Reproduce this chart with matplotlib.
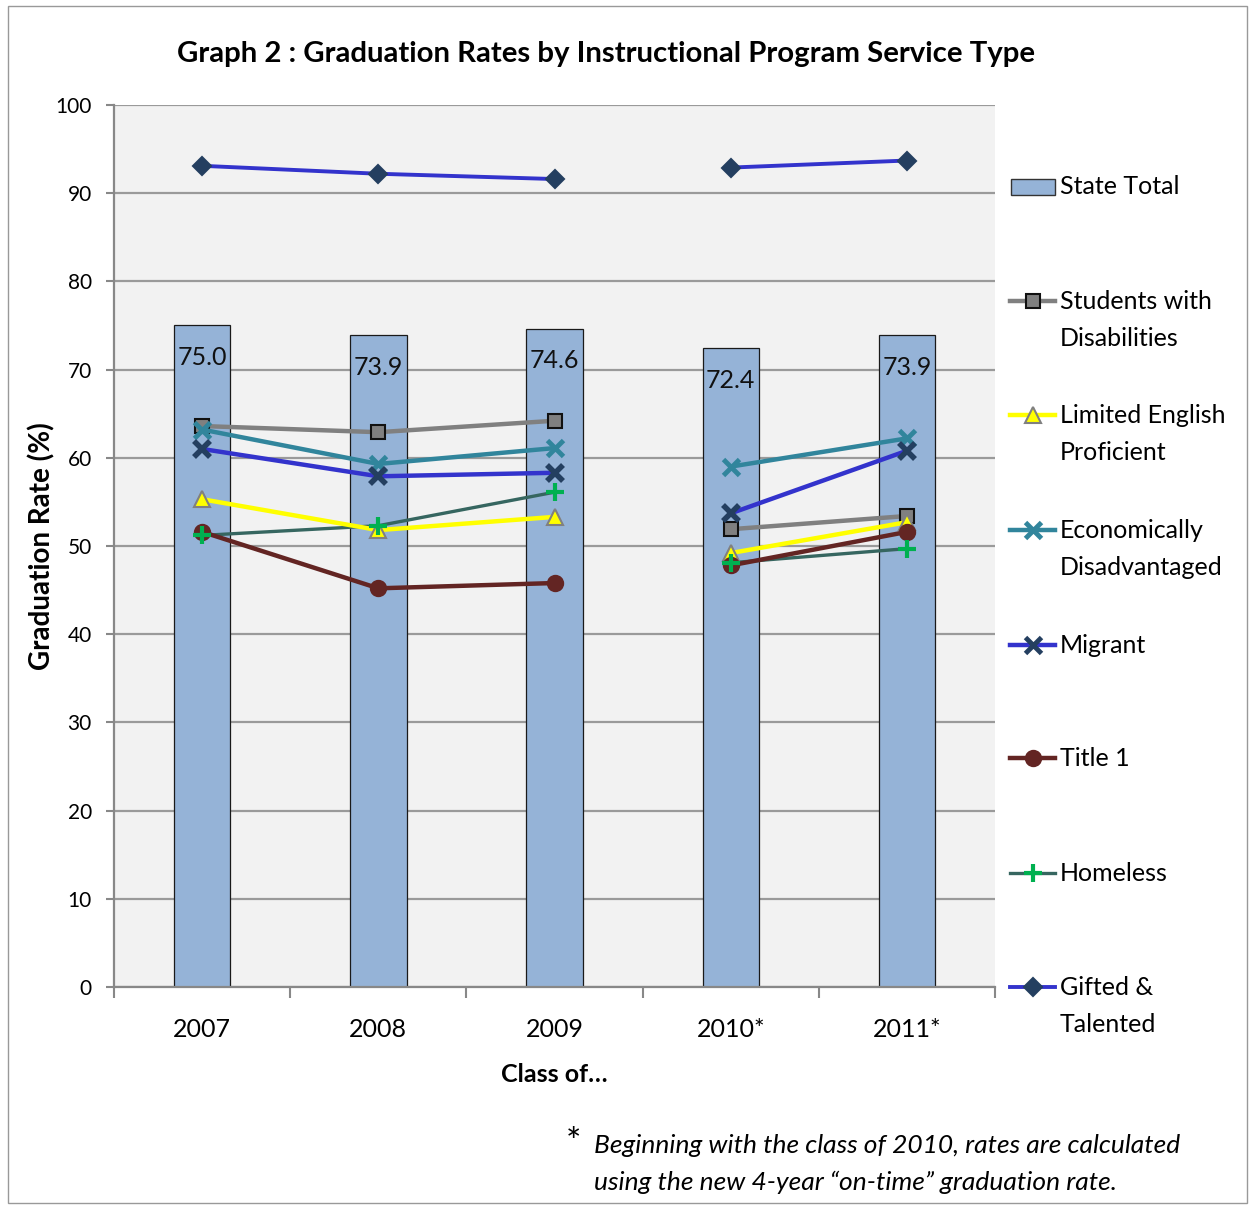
import numpy as np
import matplotlib
matplotlib.use('Agg')
import matplotlib.pyplot as plt
from matplotlib.lines import Line2D
from matplotlib.patches import Rectangle

# ---- Data ----
years = ['2007', '2008', '2009', '2010*', '2011*']
state_total = [75.0, 73.9, 74.6, 72.4, 73.9]

disabilities = [63.6, 62.9, 64.2, 51.9, 53.4]
lep = [55.3, 51.8, 53.3, 49.2, 52.7]
econ_dis = [63.2, 59.3, 61.1, 59.0, 62.2]
migrant = [61.0, 57.9, 58.3, 53.7, 60.8]
title1 = [51.6, 45.2, 45.8, 47.8, 51.6]
homeless = [51.2, 52.3, 56.1, 48.1, 49.7]
gifted = [93.1, 92.2, 91.6, 92.9, 93.7]

# label, values, line colour, marker, marker face, marker edge, size, line width
series = [
    ('Students with\nDisabilities', disabilities, '#808080', 's', '#808080', '#111111', 10, 3.2),
    ('Limited English\nProficient', lep, '#FFFF00', '^', '#FFFF00', '#808080', 12, 3.2),
    ('Economically\nDisadvantaged', econ_dis, '#31859C', 'x', '#31859C', '#31859C', 11, 3.2),
    ('Migrant', migrant, '#3333CC', 'X', '#243F60', '#243F60', 11, 3.2),
    ('Title 1', title1, '#632523', 'o', '#632523', '#632523', 11, 3.2),
    ('Homeless', homeless, '#366660', 'P', '#00B050', '#00B050', 0, 2.4),
    ('Gifted &\nTalented', gifted, '#3333CC', 'D', '#243F60', '#243F60', 9, 2.8),
]

# break between the old and the new rate definition
split = 3

plt.rcParams['font.family'] = ['Lato', 'DejaVu Sans']

fig = plt.figure(figsize=(12.52, 12.05), dpi=100)
fig.patch.set_facecolor('white')
fig.patches.append(Rectangle((0.006, 0.002), 0.99, 0.993, transform=fig.transFigure,
                             fill=False, edgecolor='#999999', linewidth=1.0))

ax = fig.add_axes([0.0911, 0.1809, 0.7037, 0.7320])
ax.set_facecolor('#F2F2F2')

x = np.arange(len(years))

# ---- Bars: state total ----
bars = ax.bar(x, state_total, width=0.32, color='#95B3D7', edgecolor='#1a1a1a',
              linewidth=0.9, zorder=2)
for xi, v in zip(x, state_total):
    ax.annotate(f'{v:.1f}', (xi, v), xytext=(0, -23), textcoords='offset points',
                ha='center', va='center', fontsize=18, color='#111111', zorder=5)

# ---- Lines: service types ----
for label, vals, lc, mk, mfc, mec, ms, lw in series:
    vals = np.array(vals)
    for seg in (slice(0, split), slice(split, len(years))):
        if mk == 'P':
            ax.plot(x[seg], vals[seg], color=lc, linewidth=lw, zorder=3)
            ax.plot(x[seg], vals[seg], linestyle='none', marker='+', markersize=13,
                    markeredgewidth=3, color=mfc, zorder=4)
        elif mk == 'x':
            ax.plot(x[seg], vals[seg], color=lc, linewidth=lw, marker='x', markersize=ms,
                    markeredgewidth=3.5, zorder=4)
        elif mk == 'X':
            ax.plot(x[seg], vals[seg], color=lc, linewidth=lw, zorder=3)
            ax.plot(x[seg], vals[seg], linestyle='none', marker='x', markersize=ms,
                    markeredgewidth=4, color=mfc, zorder=4)
        else:
            ax.plot(x[seg], vals[seg], color=lc, linewidth=lw, marker=mk, markersize=ms,
                    markerfacecolor=mfc, markeredgecolor=mec, markeredgewidth=1.5, zorder=4)

# ---- Axes ----
ax.set_xlim(-0.5, len(years) - 0.5)
ax.set_ylim(0, 100)
ax.set_yticks(np.arange(0, 101, 10))
ax.yaxis.grid(True, color='#9a9a9a', linewidth=1.6, zorder=0)
ax.set_axisbelow(True)

ax.set_xticks(np.arange(-0.5, len(years), 1.0))
ax.set_xticklabels([])
ax.set_xticks(x, minor=True)
ax.set_xticklabels(years, minor=True, fontsize=18)
ax.tick_params(axis='x', which='major', direction='out', length=8, color='#888888', width=1.5)
ax.tick_params(axis='x', which='minor', length=0, pad=22)
ax.tick_params(axis='y', direction='out', length=6, color='#888888', width=1.5,
               labelsize=15, pad=10)

for side in ('top', 'right'):
    ax.spines[side].set_visible(False)
for side in ('left', 'bottom'):
    ax.spines[side].set_color('#888888')
    ax.spines[side].set_linewidth(1.6)

ax.set_ylabel('Graduation Rate (%)', fontsize=20, fontweight='bold', labelpad=0)
ax.set_xlabel('Class of…', fontsize=18, fontweight='bold', labelpad=16)

fig.text(0.484, 0.955, 'Graph 2 : Graduation Rates by Instructional Program Service Type',
         ha='center', va='center', fontsize=21.2, fontweight='bold')

# ---- Legend (right side, first line aligned with handle) ----
W, H = 1252, 1205
hx0, hx1, tx = 1010 / W, 1055 / W, 1060 / W
leg_y = [187, 301, 415, 530, 645, 758, 873, 987]

fig.patches.append(Rectangle((1011 / W, 1 - 195 / H), 44 / W, 16 / H, transform=fig.transFigure,
                             facecolor='#95B3D7', edgecolor='#333333', linewidth=1.0))
fig.text(tx, 1 - leg_y[0] / H, 'State Total', ha='left', va='center', fontsize=18)

for (label, vals, lc, mk, mfc, mec, ms, lw), py in zip(series, leg_y[1:]):
    yf = 1 - py / H
    fig.add_artist(Line2D([hx0, hx1], [yf, yf], transform=fig.transFigure, color=lc,
                          linewidth=lw))
    if mk == 'P':
        fig.add_artist(Line2D([(hx0 + hx1) / 2], [yf], transform=fig.transFigure,
                              marker='+', markersize=13, markeredgewidth=3, color=mfc))
    elif mk in ('x', 'X'):
        fig.add_artist(Line2D([(hx0 + hx1) / 2], [yf], transform=fig.transFigure,
                              marker='x', markersize=ms, markeredgewidth=3.5, color=mfc))
    else:
        fig.add_artist(Line2D([(hx0 + hx1) / 2], [yf], transform=fig.transFigure,
                              marker=mk, markersize=ms, markerfacecolor=mfc,
                              markeredgecolor=mec, markeredgewidth=1.5))
    fig.text(tx, yf + 11 / H, label, ha='left', va='top', fontsize=18, linespacing=1.75)

# ---- Footnote ----
fig.text(566 / W, 1 - 1143 / H, '*', ha='left', va='center', fontsize=26)
fig.text(594 / W, 1 - 1164 / H, 'Beginning with the class of 2010, rates are calculated\n'
         'using the new 4-year \u201con-time\u201d graduation rate.',
         ha='left', va='center', fontsize=19, style='italic', linespacing=1.75)

fig.savefig('out.png', dpi=100)
